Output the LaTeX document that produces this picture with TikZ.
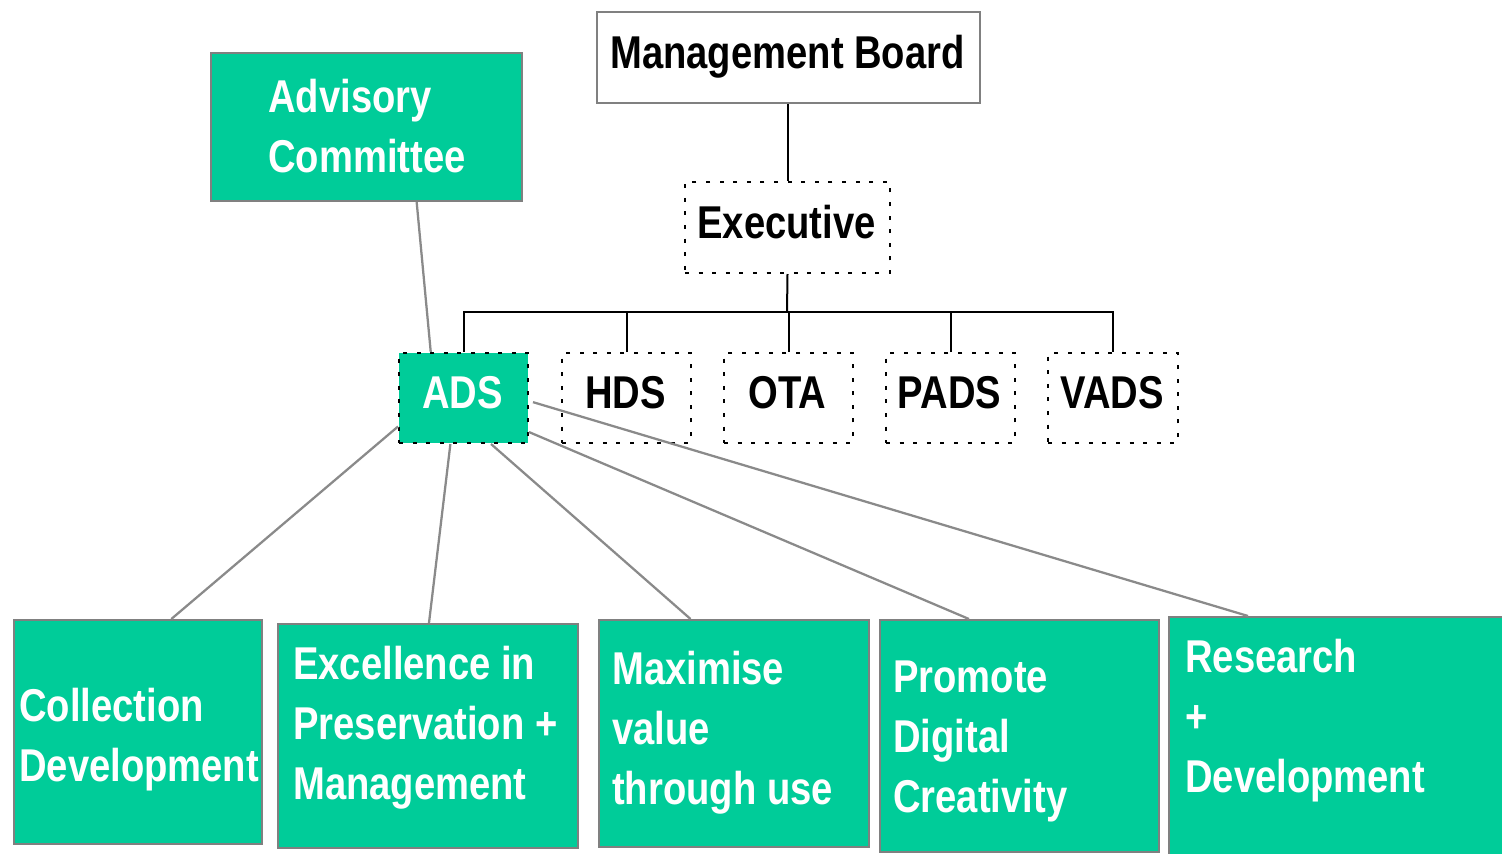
\documentclass[tikz,border=0pt]{standalone}
\usepackage{fontspec}
\setmainfont{Liberation Sans}[FakeStretch=0.83]
\usetikzlibrary{calc}
\definecolor{ggreen}{HTML}{00CC99}
\definecolor{boxgray}{HTML}{808080}
\definecolor{linegray}{HTML}{8A8A8A}
\begin{document}
\begin{tikzpicture}[x=0.75pt,y=-0.75pt,
  box/.style={draw=boxgray, line width=1.6pt, anchor=north west, inner sep=0pt},
  gbox/.style={box, fill=ggreen},
  dotbox/.style={draw=black, line width=1.5pt, dash pattern=on 3pt off 7.2pt, anchor=north west, inner sep=0pt},
  txt/.style={anchor=base west, inner sep=0pt, align=left, font=\fontsize{34.5}{45}\selectfont\bfseries},
  ctxt/.style={txt, anchor=base},
  wtxt/.style={txt, text=white},
  wctxt/.style={ctxt, text=white},
  tree/.style={draw=black, line width=1.5pt},
  link/.style={draw=linegray, line width=1.7pt}]
\useasboundingbox (0,0) rectangle (1502,853);
\clip (0,0) rectangle (1502,853);

% top level
\node[box, fill=white, minimum width={383*0.75pt}, minimum height={91*0.75pt}] (mb) at (596,11) {};
\node[ctxt] (mbt) at (787.5,68) {Management Board};
\node[dotbox, minimum width={205*0.75pt}, minimum height={91*0.75pt}] (exec) at (684,181) {};
\node[ctxt] (exect) at (786.5,238) {Executive};

% advisory committee
\node[gbox, minimum width={311*0.75pt}, minimum height={148*0.75pt}] (ac) at (210,52) {};
\node[wtxt] (act) at (268,172) {Advisory\\Committee};

% directorates
\node[dotbox, fill=ggreen, minimum width={129*0.75pt}, minimum height={90*0.75pt}] (ads) at (398,352) {};
\node[wctxt] (adst) at (462.5,408) {ADS};
\node[dotbox, minimum width={129*0.75pt}, minimum height={90*0.75pt}] (hds) at (561,352) {};
\node[ctxt] (hdst) at (625.5,408) {HDS};
\node[dotbox, minimum width={129*0.75pt}, minimum height={90*0.75pt}] (ota) at (723,352) {};
\node[ctxt] (otat) at (787.5,408) {OTA};
\node[dotbox, minimum width={129*0.75pt}, minimum height={90*0.75pt}] (pads) at (885,352) {};
\node[ctxt] (padst) at (949.5,408) {PADS};
\node[dotbox, minimum width={130*0.75pt}, minimum height={90*0.75pt}] (vads) at (1047,352) {};
\node[ctxt] (vadst) at (1112,408) {VADS};

% bottom boxes
\node[gbox, minimum width={248*0.75pt}, minimum height={224*0.75pt}] (cd) at (13,619) {};
\node[wtxt] (cdt) at (19,781) {Collection\\Development};
\node[gbox, minimum width={300*0.75pt}, minimum height={224*0.75pt}] (ep) at (277,623) {};
\node[wtxt] (ept) at (293,799) {Excellence in\\Preservation +\\Management};
\node[gbox, minimum width={270*0.75pt}, minimum height={227*0.75pt}] (mv) at (598,619) {};
\node[wtxt] (mvt) at (612,804) {Maximise\\value\\through use};
\node[gbox, minimum width={279*0.75pt}, minimum height={232*0.75pt}] (pd) at (879,619) {};
\node[wtxt] (pdt) at (893,812) {Promote\\Digital\\Creativity};
\node[gbox, minimum width={360*0.75pt}, minimum height={260*0.75pt}] (rd) at (1168,616) {};
\node[wtxt] (rdt) at (1185,792) {Research\\+\\Development};

% org tree
\coordinate (bar) at (787,312);
\draw[tree] (exec.north |- mb.south) -- (exec.north);
\draw[tree] (exec.south) -- (bar);
\draw[tree] (ads.north) |- (bar) -| (vads.north);
\draw[tree] (hds.north) -- (hds.north |- bar);
\draw[tree] (ota.north) -- (ota.north |- bar);
\draw[tree] (pads.north) -- (pads.north |- bar);

% grey links
\draw[link] ($(ac.south west)!0.66!(ac.south east)$) -- ($(ads.north west)!0.25!(ads.north east)$);
\draw[link] ($(ads.south west)!0.19!(ads.north west)$) -- ($(cd.north west)!0.633!(cd.north east)$);
\draw[link] ($(ads.south west)!0.40!(ads.south east)$) -- ($(ep.north west)!0.503!(ep.north east)$);
\draw[link] ($(ads.south west)!0.71!(ads.south east)$) -- ($(mv.north west)!0.34!(mv.north east)$);
\draw[link] ($(ads.south east)!0.13!(ads.north east)$) -- ($(pd.north west)!0.32!(pd.north east)$);
\draw[link] ($(ads.south east)!0.455!(ads.north east)+(4,0)$) -- ($(rd.north west)+(80,0)$);
\end{tikzpicture}
\end{document}
